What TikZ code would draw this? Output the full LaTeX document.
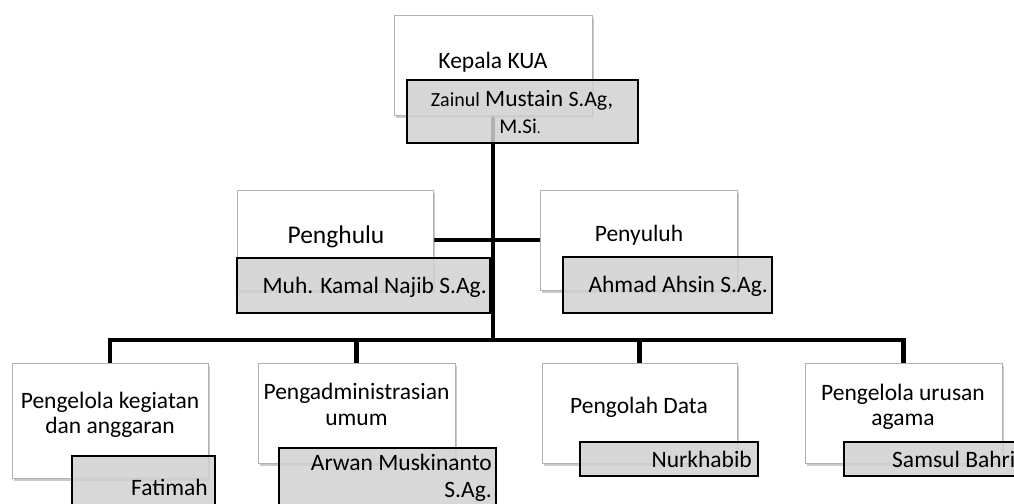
\documentclass[tikz,border=0pt]{standalone}
\usepackage{fontspec}
\setmainfont{Carlito}
\usetikzlibrary{shadows,backgrounds}
\begin{document}
\begin{tikzpicture}[x=1pt,y=-1pt,
  wbox/.style={draw=black!30, line width=0.8pt, fill=white, inner sep=0pt,
    drop shadow={shadow xshift=2pt,shadow yshift=-3pt,opacity=0.35,fill=black!60}},
  gbox/.style={draw=black, line width=1.3pt, fill=black!18, fill opacity=0.85, inner sep=0pt},
  conn/.style={line width=4.5pt, line join=miter},
  txt/.style={inner sep=0pt, font=\fontsize{23.5}{28}\selectfont},
]
\useasboundingbox (0,0) rectangle (1014,503);

% white boxes
\node[wbox, minimum width=198, minimum height=100] (top) at (493,65) {};
\node[wbox, minimum width=196, minimum height=100] (pengh) at (335,240) {};
\node[wbox, minimum width=197, minimum height=100] (penyu) at (638.5,240) {};
\node[wbox, minimum width=196, minimum height=115] (b1) at (110,420.5) {};
\node[wbox, minimum width=197, minimum height=100] (b2) at (356.5,413) {};
\node[wbox, minimum width=195, minimum height=100] (b3) at (639.5,413) {};
\node[wbox, minimum width=197, minimum height=100] (b4) at (903.5,413) {};

\coordinate (bus) at (493,340);

% connectors
\begin{scope}[on background layer]
  \draw[conn] (top.south) -- (bus);
  \draw[conn] (b1.north) |- (bus) -| (b4.north);
  \draw[conn] (b2.north) -- (b2.north |- bus);
  \draw[conn] (b3.north) -- (b3.north |- bus);
  \draw[conn] (pengh.east) -- (penyu.west);
\end{scope}

% grey boxes
\node[gbox, minimum width=231, minimum height=63] (topg) at (522.5,111.5) {};
\node[gbox, minimum width=253, minimum height=55] (muh) at (363.5,285.5) {};
\node[gbox, minimum width=209, minimum height=56] (ahm) at (667.5,285) {};
\node[gbox, minimum width=143, minimum height=74] (g1) at (143.5,493) {};
\node[gbox, minimum width=217, minimum height=82] (g2) at (387.5,489) {};
\node[gbox, minimum width=178, minimum height=34] (g3) at (669,459) {};
\node[gbox, minimum width=190, minimum height=34] (g4) at (939,459) {};

% texts
\node[txt, anchor=base] (t1) at (493,69) {Kepala KUA};
\node[txt, anchor=base] (t2) at (522,106) {{\fontsize{20}{24}\selectfont Zainul} Mustain {\fontsize{22}{26}\selectfont S.Ag,}};
\node[txt, anchor=base] (t3) at (520,133) {{\fontsize{21}{25}\selectfont M.Si}{\fontsize{15}{18}\selectfont .}};
\node[txt, anchor=base, font=\fontsize{25.5}{30}\selectfont] (t4) at (336,243) {Penghulu};
\node[txt, anchor=base] (t5) at (639,241) {Penyuluh};
\node[txt, anchor=base east] (t6) at (487,293) {Muh. Kamal Najib S.Ag.};
\node[txt, anchor=base east] (t7) at (768,292) {Ahmad Ahsin S.Ag.};
\node[txt, anchor=base] (t8a) at (110,408) {Pengelola kegiatan};
\node[txt, anchor=base] (t8b) at (110,433) {dan anggaran};
\node[txt, anchor=base] (t10a) at (356.5,399) {Pengadministrasian};
\node[txt, anchor=base] (t10b) at (356.5,425) {umum};
\node[txt, anchor=base east] (t9) at (208,495) {Fatimah};
\node[txt, anchor=base east] (t11a) at (492,470) {Arwan Muskinanto};
\node[txt, anchor=base east] (t11b) at (492,497) {S.Ag.};
\node[txt, anchor=base] (t12) at (639,413) {Pengolah Data};
\node[txt, anchor=base east] (t13) at (752,467) {Nurkhabib};
\node[txt, anchor=base] (t14a) at (903,400) {Pengelola urusan};
\node[txt, anchor=base] (t14b) at (903,425) {agama};
\node[txt, anchor=base west] (t15) at (892,467) {Samsul Bahri};
\end{tikzpicture}
\end{document}
